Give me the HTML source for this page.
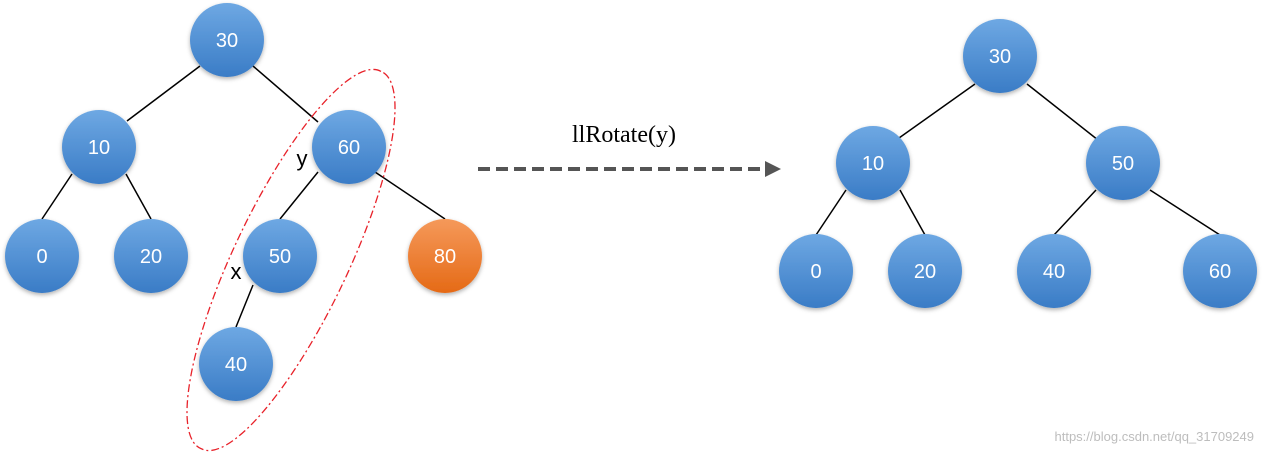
<!DOCTYPE html>
<html><head><meta charset="utf-8"><style>
html,body{margin:0;padding:0;background:#fff;width:1263px;height:453px;overflow:hidden;}
svg{display:block;}
text{font-family:"Liberation Sans",sans-serif;}
</style></head><body>
<svg width="1263" height="453" viewBox="0 0 1263 453">
<defs>
<linearGradient id="blue" x1="0" y1="0" x2="0" y2="1"><stop offset="0" stop-color="#6ea8e3"/><stop offset="1" stop-color="#3a7cc6"/></linearGradient>
<linearGradient id="orange" x1="0" y1="0" x2="0" y2="1"><stop offset="0" stop-color="#f5995a"/><stop offset="1" stop-color="#e56a16"/></linearGradient>
<filter id="sh" x="-30%" y="-30%" width="160%" height="160%"><feDropShadow dx="0" dy="2" stdDeviation="2" flood-color="#000" flood-opacity="0.3"/></filter>
</defs>
<g stroke="#000" stroke-width="1.5">
<line x1="200" y1="66" x2="127" y2="121"/><line x1="253" y1="66" x2="318" y2="122"/>
<line x1="72" y1="174" x2="42" y2="219"/><line x1="126" y1="174" x2="151" y2="219"/>
<line x1="318" y1="172" x2="280" y2="219"/><line x1="375" y1="172" x2="445" y2="219"/>
<line x1="253" y1="285" x2="236" y2="327"/>
<line x1="975" y1="84" x2="899" y2="138"/><line x1="1027" y1="84" x2="1098" y2="140"/>
<line x1="846" y1="190" x2="816" y2="235"/><line x1="900" y1="190" x2="925" y2="235"/>
<line x1="1096" y1="190" x2="1054" y2="235"/><line x1="1150" y1="190" x2="1220" y2="235"/>
</g>
<path d="M381,71.4 A209,56 -64.5 1 0 201,448.6 A209,56 -64.5 1 0 381,71.4 Z" fill="none" stroke="#e8222a" stroke-width="1.3" stroke-dasharray="8 3 2 3"/>
<g filter="url(#sh)">
<g><circle cx="227" cy="40" r="37" fill="url(#blue)"/><text x="227" y="47" text-anchor="middle" font-size="20" fill="#fff">30</text></g>
<g><circle cx="99" cy="147" r="37" fill="url(#blue)"/><text x="99" y="154" text-anchor="middle" font-size="20" fill="#fff">10</text></g>
<g><circle cx="349" cy="147" r="37" fill="url(#blue)"/><text x="349" y="154" text-anchor="middle" font-size="20" fill="#fff">60</text></g>
<g><circle cx="42" cy="256" r="37" fill="url(#blue)"/><text x="42" y="263" text-anchor="middle" font-size="20" fill="#fff">0</text></g>
<g><circle cx="151" cy="256" r="37" fill="url(#blue)"/><text x="151" y="263" text-anchor="middle" font-size="20" fill="#fff">20</text></g>
<g><circle cx="280" cy="256" r="37" fill="url(#blue)"/><text x="280" y="263" text-anchor="middle" font-size="20" fill="#fff">50</text></g>
<g><circle cx="445" cy="256" r="37" fill="url(#orange)"/><text x="445" y="263" text-anchor="middle" font-size="20" fill="#fff">80</text></g>
<g><circle cx="236" cy="364" r="37" fill="url(#blue)"/><text x="236" y="371" text-anchor="middle" font-size="20" fill="#fff">40</text></g>
<g><circle cx="1000" cy="56" r="37" fill="url(#blue)"/><text x="1000" y="63" text-anchor="middle" font-size="20" fill="#fff">30</text></g>
<g><circle cx="873" cy="163" r="37" fill="url(#blue)"/><text x="873" y="170" text-anchor="middle" font-size="20" fill="#fff">10</text></g>
<g><circle cx="1123" cy="163" r="37" fill="url(#blue)"/><text x="1123" y="170" text-anchor="middle" font-size="20" fill="#fff">50</text></g>
<g><circle cx="816" cy="271" r="37" fill="url(#blue)"/><text x="816" y="278" text-anchor="middle" font-size="20" fill="#fff">0</text></g>
<g><circle cx="925" cy="271" r="37" fill="url(#blue)"/><text x="925" y="278" text-anchor="middle" font-size="20" fill="#fff">20</text></g>
<g><circle cx="1054" cy="271" r="37" fill="url(#blue)"/><text x="1054" y="278" text-anchor="middle" font-size="20" fill="#fff">40</text></g>
<g><circle cx="1220" cy="271" r="37" fill="url(#blue)"/><text x="1220" y="278" text-anchor="middle" font-size="20" fill="#fff">60</text></g>
</g>
<text x="302" y="166" text-anchor="middle" font-size="22" fill="#000">y</text>
<text x="236" y="279" text-anchor="middle" font-size="22" fill="#000">x</text>
<line x1="478" y1="169" x2="766" y2="169" stroke="#555" stroke-width="4" stroke-dasharray="12 6"/>
<polygon points="765,161 781,169 765,177" fill="#555"/>
<text x="624" y="142" text-anchor="middle" font-size="24" style="font-family:'Liberation Serif',serif" fill="#000">llRotate(y)</text>
<text x="1254" y="441" text-anchor="end" font-size="13" fill="#bdbdbd">https://blog.csdn.net/qq_31709249</text>
</svg>
</body></html>
